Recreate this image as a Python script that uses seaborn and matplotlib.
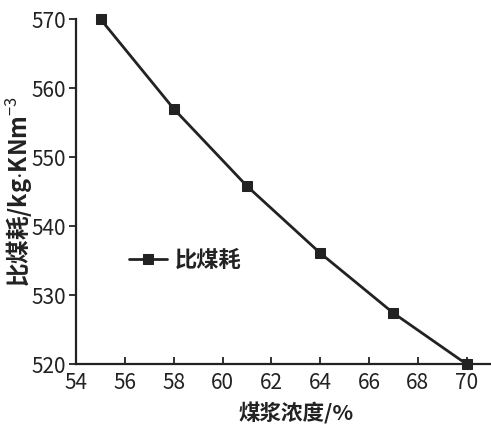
import matplotlib
matplotlib.use("Agg")
import matplotlib.pyplot as plt
import seaborn as sns
import pandas as pd

# Coal-water slurry concentration (%) vs. specific coal consumption
concentration = [55, 58, 61, 64, 67, 70]
coal_consumption = [570.0, 557.0, 545.8, 536.1, 527.4, 520.0]
series_name = "比煤耗"
x_ticks = [54, 56, 58, 60, 62, 64, 66, 68, 70]
y_ticks = [520, 530, 540, 550, 560, 570]

sns.set_theme(style="white")
plt.rcParams['font.family'] = ['Noto Sans CJK SC', 'DejaVu Sans']
plt.rcParams['mathtext.fontset'] = 'custom'
plt.rcParams['mathtext.rm'] = 'Noto Sans CJK SC'
plt.rcParams['mathtext.bf'] = 'Noto Sans CJK SC:bold'

df = pd.DataFrame({"浓度": concentration, "比煤耗": coal_consumption, "系列": series_name})

fig = plt.figure(figsize=(4.91, 4.34), dpi=100)
ax = fig.add_axes([0.155, 0.161, 0.845, 0.795])

sns.lineplot(data=df, x="浓度", y="比煤耗", hue="系列", palette=["#222222"],
             marker="s", markersize=7, markeredgecolor="#222222", linewidth=2,
             ax=ax, clip_on=False, zorder=5)

ax.set_xlim(54, 71)
ax.set_ylim(520, 570)
ax.set_xticks(x_ticks)
ax.set_yticks(y_ticks)

for side in ["top", "right"]:
    ax.spines[side].set_visible(False)
for side in ["left", "bottom"]:
    ax.spines[side].set_color("#222222")
    ax.spines[side].set_linewidth(1.6)

ax.tick_params(axis="x", direction="in", length=5, width=1.3, colors="#222222",
               labelsize=15, pad=6)
ax.tick_params(axis="y", direction="out", length=5, width=1.3, colors="#222222",
               labelsize=15, pad=2)
ax.tick_params(axis="both", which="both", bottom=True, left=True)

ax.set_xlabel("煤浆浓度/%", fontsize=15.5, fontweight="bold",
              color="#222222", labelpad=0)
ax.xaxis.set_label_coords(0.53, -0.11)
ax.set_ylabel("比煤耗/kg$\\cdot$KNm$^{-3}$", fontsize=17, fontweight="bold",
              color="#222222")
ax.yaxis.set_label_coords(-0.1, 0.5)

leg = ax.legend(loc="center left", bbox_to_anchor=(0.08, 0.3), frameon=False,
                handlelength=1.7, handletextpad=0.35,
                prop={"size": 16, "weight": "bold"})
for t in leg.get_texts():
    t.set_color("#222222")

fig.savefig("out.png", dpi=100, facecolor="white")
